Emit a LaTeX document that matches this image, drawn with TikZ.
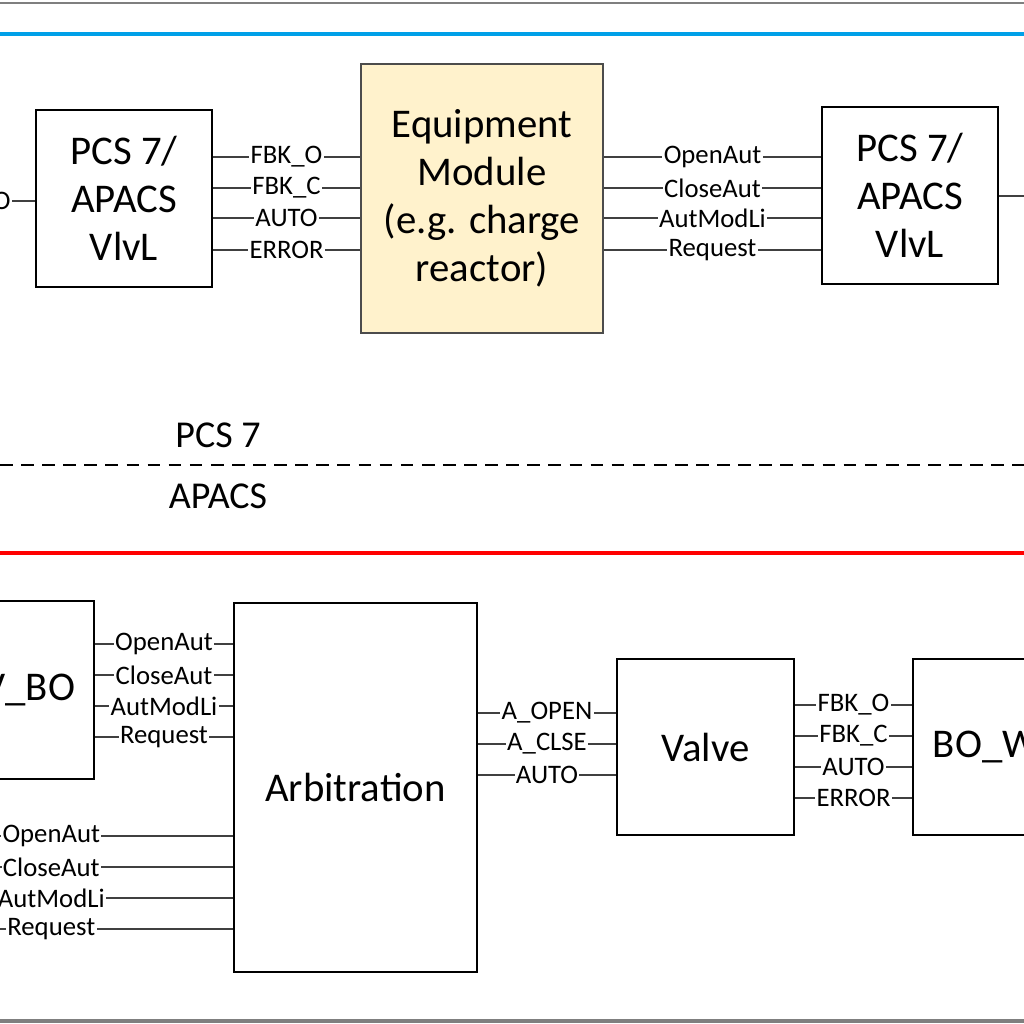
\documentclass[tikz,border=0pt]{standalone}
\usepackage{fontspec}
\setmainfont{Carlito}
\usetikzlibrary{positioning}
\definecolor{modfill}{HTML}{FFF2CC}
\definecolor{linegray}{HTML}{7F7F7F}
\definecolor{pcsblue}{HTML}{00A0E8}

\begin{document}
\begin{tikzpicture} [x=0.025cm, y=-0.025cm,
  block/.style={draw, line width=1.2pt, align=center, font=\fontsize{29}{34}\selectfont, inner sep=0pt},
  sig/.style={draw=black!75, line width=1.2pt},
  lbl/.style={fill=white, inner sep=1pt, font=\fontsize{19}{21}\selectfont},
  big/.style={font=\fontsize{29}{34}\selectfont}]
\useasboundingbox (0, 0) rectangle (1024, 1024);
\clip (0, 0) rectangle (1024, 1024);

% frame and zone lines
\draw[linegray, line width=2pt] (0, 3) -- (1024, 3);
\draw[linegray, line width=2.5pt] (0, 1021) -- (1024, 1021);
\draw[pcsblue, line width=2.5pt] (0, 34) -- (1024, 34);
\draw[red, line width=2.5pt] (0, 553) -- (1024, 553);
\draw[dash pattern=on 9pt off 6pt, line width=1.2pt] (0, 465) -- (1024, 465);
\node[font=\fontsize{27}{30}\selectfont] (pcs) at (218, 435) {PCS 7};
\node[font=\fontsize{27}{30}\selectfont] (apacs) at (218, 496) {APACS};

% PCS 7 part
\node[block, minimum width=44mm, minimum height=44.25mm] (vlvl1) at (124, 198.5) {PCS 7/\\APACS\\VlvL};
\node[block, fill=modfill, draw=black!70, minimum width=60.5mm, minimum height=67.25mm] (eqm) at (482, 198.5) {Equipment\\Module\\(e.g. charge\\reactor)};
\node[block, minimum width=44mm, minimum height=44.25mm] (vlvl2) at (910, 195.5) {PCS 7/\\APACS\\VlvL};
\coordinate (inl) at (0, 201);
\coordinate (outr) at (1024, 196);
\draw[sig] (inl) -- node[lbl, pos=0.05] {O} (vlvl1.west |- inl);
\draw[sig] (vlvl2.east |- outr) -- (outr);
\foreach \y/\t in {157/FBK\_O, 188/FBK\_C, 218/AUTO, 250/ERROR}
  \draw[sig] (vlvl1.east |- 0,\y) -- node[lbl] {\t} (eqm.west |- 0,\y);
\foreach \y/\t in {157/OpenAut, 188/CloseAut, 218/AutModLi, 250/Request}
  \draw[sig] (eqm.east |- 0,\y) -- node[lbl] {\t} (vlvl2.west |- 0,\y);

% APACS part
\node[block, minimum width=46mm, minimum height=44.5mm] (vbo) at (2, 690) {};
\node[big, anchor=east] (vbot) at (80, 690) {V\_BO};
\node[block, minimum width=60.75mm, minimum height=92.25mm] (arb) at (355.5, 787.5) {Arbitration};
\node[block, minimum width=44.25mm, minimum height=44mm] (valve) at (705.5, 747) {Valve};
\node[block, minimum width=46.75mm, minimum height=44mm] (bow) at (1006.5, 747) {};
\node[big, anchor=west] (bowt) at (928, 747) {BO\_W};
\foreach \y/\t in {644/OpenAut, 675/CloseAut, 706/AutModLi, 737/Request}
  \draw[sig] (vbo.east |- 0,\y) -- node[lbl] {\t} (arb.west |- 0,\y);
\foreach \y/\t in {836/OpenAut, 867/CloseAut, 898/AutModLi, 929/Request}
  \draw[sig] (0, \y) -- node[lbl, pos=0.22] {\t} (arb.west |- 0,\y);
\foreach \y/\t in {713/A\_OPEN, 744/A\_CLSE, 775/AUTO}
  \draw[sig] (arb.east |- 0,\y) -- node[lbl] {\t} (valve.west |- 0,\y);
\foreach \y/\t in {705/FBK\_O, 736/FBK\_C, 767/AUTO, 798/ERROR}
  \draw[sig] (valve.east |- 0,\y) -- node[lbl] {\t} (bow.west |- 0,\y);
\end{tikzpicture}
\end{document}
